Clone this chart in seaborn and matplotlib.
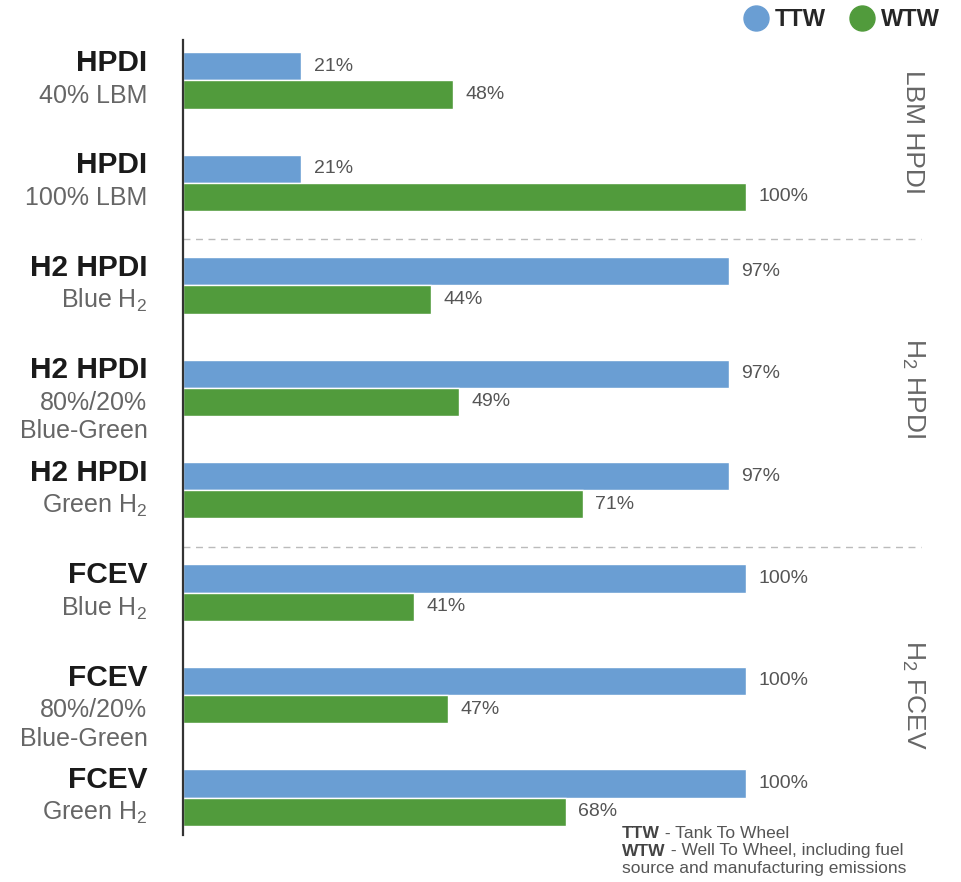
import matplotlib.pyplot as plt
import pandas as pd
import seaborn as sns
from matplotlib.lines import Line2D

# data
titles = ['HPDI', 'HPDI', 'H2 HPDI', 'H2 HPDI', 'H2 HPDI', 'FCEV', 'FCEV', 'FCEV']
subtitles = ['40% LBM', '100% LBM', 'Blue H$_2$', '80%/20%\nBlue-Green', 'Green H$_2$',
             'Blue H$_2$', '80%/20%\nBlue-Green', 'Green H$_2$']
ttw = [21, 21, 97, 97, 97, 100, 100, 100]
wtw = [48, 100, 44, 49, 71, 41, 47, 68]
group_names = ['LBM HPDI', 'H$_2$ HPDI', 'H$_2$ FCEV']
group_rows = [0.5, 3, 6]
metrics = ['TTW', 'WTW']
colors = {'TTW': '#6A9ED3', 'WTW': '#519B3C'}

sns.set_style('white')
plt.rcParams['font.family'] = ['Liberation Sans', 'DejaVu Sans']
plt.rcParams['mathtext.default'] = 'regular'

rows = [f'r{i}' for i in range(len(titles))]
df = pd.DataFrame({
    'row': rows * 2,
    'metric': ['TTW'] * len(rows) + ['WTW'] * len(rows),
    'value': ttw + wtw,
})

fig = plt.figure(figsize=(9.61, 8.82), dpi=100)
ax = fig.add_axes([183 / 961, 47 / 882, (940 - 183) / 961, (835 - 40) / 882])

sns.barplot(data=df, y='row', x='value', hue='metric', hue_order=metrics, order=rows,
            palette=colors, saturation=1, orient='h', width=0.55, ax=ax, legend=False,
            errorbar=None)

ax.set_xlim(0, 134.5)
ax.set_ylim(7.366, -0.395)
ax.set_xlabel('')
ax.set_ylabel('')
ax.set_xticks([])
ax.set_yticks([])
for side in ['top', 'right', 'bottom']:
    ax.spines[side].set_visible(False)
ax.spines['left'].set_color('#333333')
ax.spines['left'].set_linewidth(1.6)

# value labels
for cont in ax.containers:
    ax.bar_label(cont, fmt='%g%%', padding=9, fontsize=14, color='#555555')

# row labels on the left
ytr = ax.get_yaxis_transform()
for i, (t, s) in enumerate(zip(titles, subtitles)):
    ax.text(-0.047, i - 0.17, t, transform=ytr, ha='right', va='center',
            fontsize=21.5, fontweight='bold', color='#1a1a1a')
    for j, line in enumerate(s.split('\n')):
        ax.text(-0.047, i + 0.15 + j * 0.275, line, transform=ytr, ha='right', va='center',
                fontsize=18, color='#666666')

# group separators and group names on the right
for yy in [1.55, 4.55]:
    ax.plot([0, 0.975], [yy, yy], transform=ytr, color='#bbbbbb', lw=1, ls=(0, (5, 4)),
            clip_on=False)
for name, gy in zip(group_names, group_rows):
    ax.text(0.964, gy, name, transform=ytr, rotation=-90, ha='center', va='center',
            fontsize=19, color='#666666')

# legend
handles = [Line2D([], [], marker='o', ls='', markersize=18, color=colors[m]) for m in metrics]
fig.legend(handles, metrics, loc='upper right', bbox_to_anchor=(1.0, 1.015), ncol=2,
           frameon=False, handletextpad=0.25, columnspacing=1.0, handlelength=1.1,
           prop={'weight': 'bold', 'size': 17})

# footnote
notes = [('TTW', ' - Tank To Wheel'), ('WTW', ' - Well To Wheel, including fuel'),
         ('', 'source and manufacturing emissions')]
for k, (b, rest) in enumerate(notes):
    y = 1 - (834 + k * 17) / 882
    tb = fig.text(622 / 961, y, b, fontsize=12.5, fontweight='bold', color='#444444',
                  va='center', ha='left')
    ax.annotate(rest, xy=(1, 0.5), xycoords=tb, va='center', ha='left',
                fontsize=12.5, color='#555555', annotation_clip=False)

fig.savefig('out.png', dpi=100)
